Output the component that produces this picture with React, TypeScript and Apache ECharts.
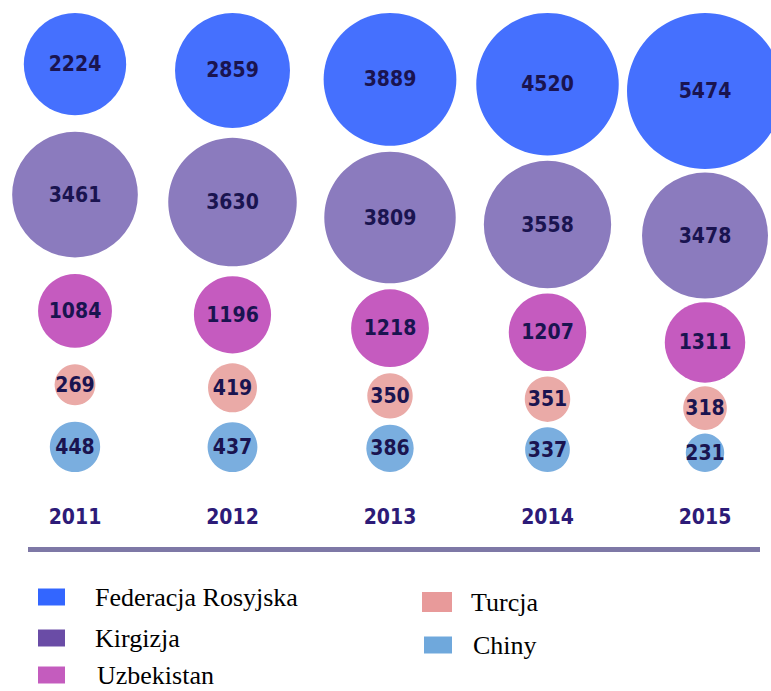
import React, { useEffect, useRef } from "react";
import * as echarts from "echarts";

const years = ["2011", "2012", "2013", "2014", "2015"];
const countries = ["Federacja Rosyjska", "Kirgizja", "Uzbekistan", "Turcja", "Chiny"];
const federacja = [2224, 2859, 3889, 4520, 5474];
const kirgizja = [3461, 3630, 3809, 3558, 3478];
const uzbekistan = [1084, 1196, 1218, 1207, 1311];
const turcja = [269, 419, 350, 351, 318];
const chiny = [448, 437, 386, 337, 231];
const seriesValues = [federacja, kirgizja, uzbekistan, turcja, chiny];

const bubbleColors = ["#4570fe", "#8b7bbe", "#c55bbf", "#eaaaa7", "#7aaedf"];
const legendColors = ["#3366ff", "#6a4ca6", "#c45cbe", "#e89a9a", "#6fa8dc"];

const PLOT_H = 459;
// affine square-root size scale
const sizeOf = (v: number) => 8 + 2 * Math.sqrt(v);

// vertical stacking of the bubbles of one year column (space-between layout)
function columnCenters(j: number): number[] {
  const d = seriesValues.map((s) => sizeOf(s[j]));
  const total = d.reduce((a, b) => a + b, 0);
  const gap = (PLOT_H - total) / (d.length - 1);
  const centers: number[] = [];
  let y = 0;
  d.forEach((di) => {
    centers.push(y + di / 2);
    y += di + gap;
  });
  return centers;
}

const numFont = "'Liberation Sans Narrow', 'DejaVu Sans Condensed', 'Arial Narrow', sans-serif";

// legend slots: [left, top, iconW, iconH, textPad] (row height 22)
const legendSlots = [
  [38, 584, 27, 17, 25],
  [38, 625, 27, 17, 25],
  [38, 662, 27, 17, 27],
  [422, 589, 30, 20, 14],
  [424, 632, 28, 17, 16],
];

export default function App() {
  const ref = useRef<HTMLDivElement>(null);
  useEffect(() => {
    if (!ref.current) return;
    const chart = echarts.init(ref.current, null, { renderer: "svg" });
    const centers = years.map((_, j) => columnCenters(j));
    const series = countries.map((name, i) => ({
      type: "scatter",
      name,
      symbol: "circle",
      symbolSize: (val: number[]) => sizeOf(val[2]),
      itemStyle: { color: bubbleColors[i], opacity: 1 },
      label: {
        show: true,
        position: "inside",
        formatter: (p: any) => String(p.value[2]),
        fontFamily: numFont,
        fontWeight: "bold",
        fontSize: 21,
        color: "#1a1450",
      },
      emphasis: { disabled: true },
      data: years.map((_, j) => [j, centers[j][i], seriesValues[i][j]]),
    }));
    const legends = countries.map((name, k) => {
      const [left, top, w, h, pad] = legendSlots[k];
      return {
        orient: "vertical",
        left,
        top,
        padding: 0,
        icon: "rect",
        itemWidth: w,
        itemHeight: h,
        selectedMode: false,
        textStyle: {
          fontFamily: "'Liberation Serif', 'Times New Roman', serif",
          fontSize: 26,
          lineHeight: 22,
          color: "#000",
          padding: [0, 0, 0, pad],
        },
        data: [{ name, itemStyle: { color: legendColors[k] } }],
      };
    });
    chart.setOption({
      animation: false,
      grid: { left: 75, right: 66, top: 13, height: PLOT_H },
      xAxis: {
        type: "category",
        data: years,
        boundaryGap: false,
        axisLine: { show: false },
        axisTick: { show: false },
        splitLine: { show: false },
        axisLabel: {
          margin: 34,
          fontFamily: numFont,
          fontWeight: "bold",
          fontSize: 21,
          color: "#2d1b78",
        },
      },
      yAxis: { type: "value", inverse: true, min: 0, max: PLOT_H, show: false },
      legend: legends,
      graphic: [
        {
          type: "line",
          shape: { x1: 28, y1: 549.5, x2: 760, y2: 549.5 },
          style: { stroke: "#7e78a6", lineWidth: 5 },
          silent: true,
        },
      ],
      series,
    });
    return () => chart.dispose();
  }, []);
  return (
    <div
      ref={ref}
      style={{ position: "fixed", left: 0, top: 0, width: 771, height: 691, background: "#fff" }}
    />
  );
}
